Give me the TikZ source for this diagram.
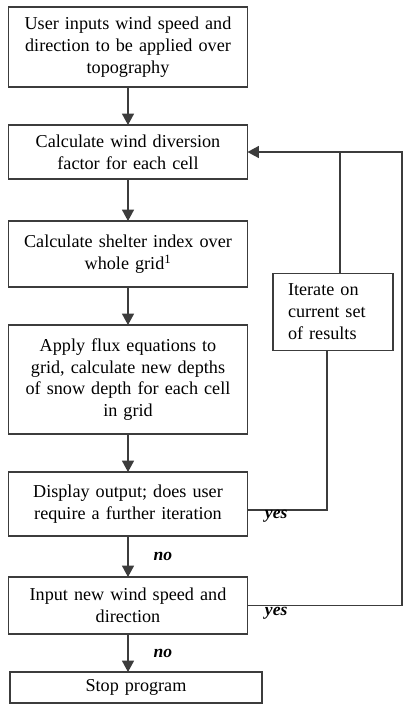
\documentclass[tikz,border=0pt]{standalone}
\usepackage{fontspec}
\setmainfont{Liberation Serif}
\usetikzlibrary{arrows.meta, positioning}

\definecolor{inkgray}{HTML}{3C3C3C}

\begin{document}
\begin{tikzpicture}[
            stepbox/.style={draw=inkgray,line width=1.1pt,outer sep=0pt,text width=6.9cm,inner xsep=0.135cm,
                align=center,font=\fontsize{15.5}{18.5}\selectfont},
            flow/.style={draw=inkgray,line width=1pt,-{Triangle[length=0.34cm,width=0.36cm]}},
            link/.style={draw=inkgray,line width=0.9pt},
            answer/.style={font=\fontsize{15}{17}\selectfont\bfseries\itshape}]

            \useasboundingbox (0,0) rectangle (12.09,-21.3);

            % Main column of steps
            \node[stepbox,minimum height=2.4cm] (user) at (3.84,-1.41)
                {User inputs wind speed and\\ direction to be applied over\\ topography};
            \node[stepbox,minimum height=1.62cm,below=1.14cm of user] (diversion)
                {Calculate wind diversion\\ factor for each cell};
            \node[stepbox,minimum height=1.98cm,below=1.26cm of diversion] (shelter)
                {Calculate shelter index over\\ whole grid\textsuperscript{1}};
            \node[stepbox,minimum height=3.27cm,below=1.14cm of shelter] (flux)
                {Apply flux equations to\\ grid, calculate new depths\\ of snow depth for each cell\\ in grid};
            \node[stepbox,minimum height=1.92cm,below=1.14cm of flux] (display)
                {Display output; does user\\ require a further iteration};
            \node[stepbox,minimum height=1.71cm,below=1.23cm of display] (newwind)
                {Input new wind speed and\\ direction};
            \node[stepbox,text width=7.29cm,minimum height=0.93cm,below=1.14cm of newwind,xshift=0.24cm] (stop)
                {Stop program};

            % Side box for repeating the run
            \node[stepbox,align=left,text width=2.7cm,inner xsep=0.45cm,minimum height=2.31cm] (iterate) at (9.99,-9.35)
                {Iterate on\\ current set\\ of results};

            \coordinate (rightedge) at (12.06,0);

            % Arrows down the column
            \draw[flow] (user) -- (diversion);
            \draw[flow] (diversion) -- (shelter);
            \draw[flow] (shelter) -- (flux);
            \draw[flow] (flux) -- (display);
            \draw[flow] (display) -- node[answer,midway,xshift=1.05cm] {no} (newwind);
            \draw[flow] (newwind.south) -- node[answer,midway,xshift=1.05cm] {no} (newwind.south |- stop.north);

            % Feedback loops
            \draw[flow] (newwind.east) -- (newwind.east -| rightedge) |- (diversion.east);
            \draw[link] ([xshift=0.21cm]iterate.north) -- ([xshift=0.21cm]iterate.north |- diversion.east);
            \draw[link] ([xshift=-0.18cm]iterate.south) |- ([yshift=-0.18cm]display.east);
            \node[answer] (yesone) at ([xshift=0.86cm,yshift=-0.36cm]display.east) {yes};
            \node[answer] (yestwo) at ([xshift=0.86cm,yshift=-0.23cm]newwind.east) {yes};
        \end{tikzpicture}
\end{document}
